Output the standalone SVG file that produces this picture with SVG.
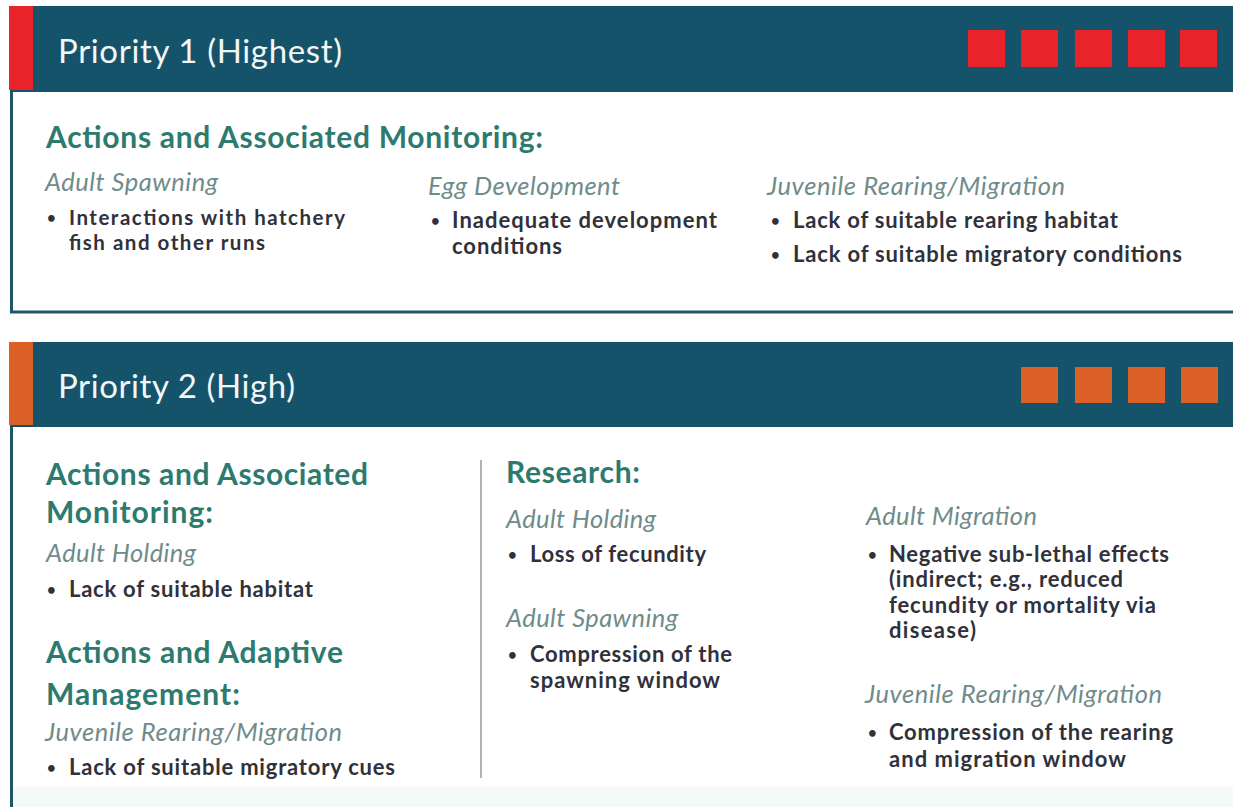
<svg xmlns="http://www.w3.org/2000/svg" width="1233" height="807" viewBox="0 0 1233 807">
<style>
  text { font-family: Lato, "Open Sans", "Liberation Sans", sans-serif; }
  .bar { fill: #15536a; }
  .red { fill: #e8232a; }
  .org { fill: #dc6128; }
  .frame { fill: none; stroke: #1e5667; stroke-width: 3; }
  .title { font-size: 33px; fill: #f2f6f6; font-weight: 400; }
  .h { font-size: 30px; fill: #2d7a6f; font-weight: 700; }
  .sub { font-size: 25.5px; fill: #6f8c8b; font-style: italic; font-weight: 400; }
  .b { font-size: 22px; fill: #30313a; font-weight: 700; }
  .b2 { font-size: 20.5px; fill: #30313a; font-weight: 700; }
  .dot { font-size: 15px; fill: #30313a; font-weight: 700; }
  .div { stroke: #b3b3b3; stroke-width: 2; fill: none; }
</style>
<rect x="0" y="0" width="1233" height="807" fill="#ffffff"/>
<rect x="13" y="787" width="1220" height="20" fill="#f4fafa"/>

<g id="priority1">
  <rect class="bar" x="10" y="6" width="1223" height="86"/>
  <rect class="red" x="9" y="6" width="24" height="84"/>
  <text class="title" x="58" y="63" textLength="284">Priority 1 (Highest)</text>
  <g id="p1-squares">
    <rect class="red" x="968" y="30" width="37" height="37"/>
    <rect class="red" x="1021" y="30" width="37" height="37"/>
    <rect class="red" x="1075" y="30" width="37" height="37"/>
    <rect class="red" x="1128" y="30" width="37" height="37"/>
    <rect class="red" x="1180" y="30" width="37" height="37"/>
  </g>
  <path class="frame" d="M11.5,92 V312 H1233"/>
  <text class="h" x="46" y="148" textLength="497">Actions and Associated Monitoring:</text>

  <g id="p1-adult-spawning">
    <text class="sub" x="45" y="191" textLength="173">Adult Spawning</text>
    <text class="dot" x="47" y="223">•</text>
    <text class="b2" x="69" y="225" textLength="276">Interactions with hatchery</text>
    <text class="b2" x="69" y="250" textLength="196">fish and other runs</text>
  </g>
  <g id="p1-egg-development">
    <text class="sub" x="428" y="195" textLength="192">Egg Development</text>
    <text class="dot" x="431" y="226">•</text>
    <text class="b" x="452" y="228" textLength="265">Inadequate development</text>
    <text class="b" x="452" y="254" textLength="110">conditions</text>
  </g>
  <g id="p1-juvenile">
    <text class="sub" x="767" y="195" textLength="298">Juvenile Rearing/Migration</text>
    <text class="dot" x="771" y="226">•</text>
    <text class="b" x="793" y="228" textLength="325">Lack of suitable rearing habitat</text>
    <text class="dot" x="771" y="260">•</text>
    <text class="b" x="793" y="262" textLength="389">Lack of suitable migratory conditions</text>
  </g>
</g>

<g id="priority2">
  <rect class="bar" x="10" y="342" width="1223" height="85"/>
  <rect class="org" x="9" y="342" width="24" height="83"/>
  <text class="title" x="58" y="398" textLength="237">Priority 2 (High)</text>
  <g id="p2-squares">
    <rect class="org" x="1021" y="367" width="37" height="36"/>
    <rect class="org" x="1075" y="367" width="37" height="36"/>
    <rect class="org" x="1128" y="367" width="37" height="36"/>
    <rect class="org" x="1181" y="367" width="37" height="36"/>
  </g>
  <path class="frame" d="M11.5,427 V807"/>

  <g id="p2-actions-monitoring">
    <text class="h" x="46" y="485" textLength="322">Actions and Associated</text>
    <text class="h" x="46" y="523" textLength="167">Monitoring:</text>
    <text class="sub" x="46" y="562" textLength="150">Adult Holding</text>
    <text class="dot" x="47" y="595">•</text>
    <text class="b" x="69" y="597" textLength="244">Lack of suitable habitat</text>
  </g>
  <g id="p2-actions-adaptive">
    <text class="h" x="46" y="663" textLength="297">Actions and Adaptive</text>
    <text class="h" x="46" y="705" textLength="194">Management:</text>
    <text class="sub" x="45" y="741" textLength="297">Juvenile Rearing/Migration</text>
    <text class="dot" x="47" y="773">•</text>
    <text class="b" x="69" y="775" textLength="326">Lack of suitable migratory cues</text>
  </g>

  <g id="connectors">
    <line class="div" x1="481" y1="460" x2="481" y2="778"/>
  </g>

  <g id="p2-research">
    <text class="h" x="506" y="483" textLength="134">Research:</text>
    <text class="sub" x="506" y="528" textLength="150">Adult Holding</text>
    <text class="dot" x="508" y="560">•</text>
    <text class="b" x="530" y="562" textLength="176">Loss of fecundity</text>
    <text class="sub" x="506" y="627" textLength="172">Adult Spawning</text>
    <text class="dot" x="508" y="660">•</text>
    <text class="b" x="530" y="662" textLength="202">Compression of the</text>
    <text class="b" x="530" y="688" textLength="190">spawning window</text>
  </g>
  <g id="p2-adult-migration">
    <text class="sub" x="866" y="525" textLength="171">Adult Migration</text>
    <text class="dot" x="868" y="560">•</text>
    <text class="b" x="889" y="562" textLength="280">Negative sub-lethal effects</text>
    <text class="b" x="889" y="587" textLength="234">(indirect; e.g., reduced</text>
    <text class="b" x="889" y="613" textLength="267">fecundity or mortality via</text>
    <text class="b" x="889" y="638" textLength="87">disease)</text>
  </g>
  <g id="p2-juvenile">
    <text class="sub" x="865" y="703" textLength="297">Juvenile Rearing/Migration</text>
    <text class="dot" x="868" y="738">•</text>
    <text class="b" x="889" y="740" textLength="284">Compression of the rearing</text>
    <text class="b" x="889" y="767" textLength="237">and migration window</text>
  </g>
</g>
</svg>
